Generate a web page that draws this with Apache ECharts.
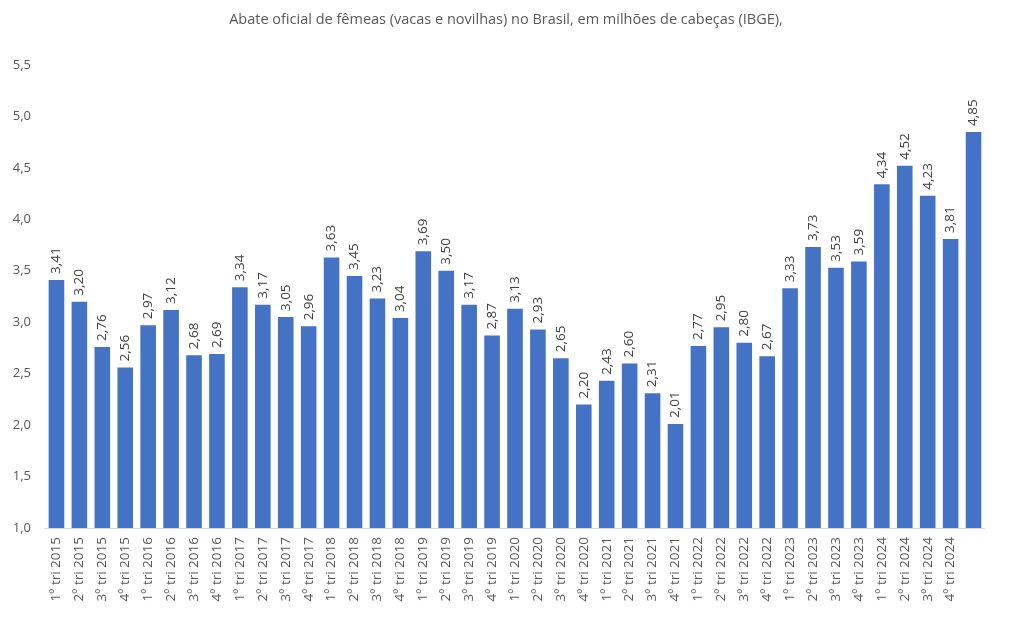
<!DOCTYPE html>
<html>
<head>
<meta charset="utf-8">
<script src="https://cdn.jsdelivr.net/npm/echarts@6/dist/echarts.min.js"></script>
<style>
  html, body { margin: 0; padding: 0; background: #fff; }
  #chart { width: 1012px; height: 629px; }
</style>
</head>
<body>
<div id="chart"></div>
<script>
// quarters 2015-2024, the last bar has no label
var categories = [
  '1º tri 2015', '2º tri 2015', '3º tri 2015', '4º tri 2015',
  '1º tri 2016', '2º tri 2016', '3º tri 2016', '4º tri 2016',
  '1º tri 2017', '2º tri 2017', '3º tri 2017', '4º tri 2017',
  '1º tri 2018', '2º tri 2018', '3º tri 2018', '4º tri 2018',
  '1º tri 2019', '2º tri 2019', '3º tri 2019', '4º tri 2019',
  '1º tri 2020', '2º tri 2020', '3º tri 2020', '4º tri 2020',
  '1º tri 2021', '2º tri 2021', '3º tri 2021', '4º tri 2021',
  '1º tri 2022', '2º tri 2022', '3º tri 2022', '4º tri 2022',
  '1º tri 2023', '2º tri 2023', '3º tri 2023', '4º tri 2023',
  '1º tri 2024', '2º tri 2024', '3º tri 2024', '4º tri 2024',
  ''
];
var abate = [
  3.41, 3.20, 2.76, 2.56,
  2.97, 3.12, 2.68, 2.69,
  3.34, 3.17, 3.05, 2.96,
  3.63, 3.45, 3.23, 3.04,
  3.69, 3.50, 3.17, 2.87,
  3.13, 2.93, 2.65, 2.20,
  2.43, 2.60, 2.31, 2.01,
  2.77, 2.95, 2.80, 2.67,
  3.33, 3.73, 3.53, 3.59,
  4.34, 4.52, 4.23, 3.81,
  4.85
];

var fonte = '"Open Sans", "Noto Sans", sans-serif';
function virgula(v, casas) {
  return v.toFixed(casas).replace('.', ',');
}

var chart = echarts.init(document.getElementById('chart'));
var option = {
  animation: false,
  title: {
    text: 'Abate oficial de fêmeas (vacas e novilhas) no Brasil, em milhões de cabeças (IBGE),',
    left: 'center',
    top: 7,
    textStyle: { fontFamily: fonte, fontSize: 14.5, fontWeight: 'normal', color: '#595959' }
  },
  grid: { left: 45, right: 27, top: 65, bottom: 101 },
  xAxis: {
    type: 'category',
    data: categories,
    axisLine: { lineStyle: { color: '#d9d9d9' } },
    axisTick: { show: false },
    axisLabel: {
      rotate: 90,
      interval: 0,
      margin: 9,
      fontFamily: fonte,
      fontSize: 13.5,
      color: '#595959'
    }
  },
  yAxis: {
    type: 'value',
    min: 1,
    max: 5.5,
    interval: 0.5,
    splitLine: { show: false },
    axisLine: { show: false },
    axisTick: { show: false },
    axisLabel: {
      margin: 14,
      fontFamily: fonte,
      fontSize: 13,
      color: '#595959',
      formatter: function (v) { return virgula(v, 1); }
    }
  },
  series: [{
    type: 'bar',
    data: abate,
    barCategoryGap: '32%',
    itemStyle: { color: '#4472C4' },
    label: {
      show: true,
      position: 'top',
      rotate: 90,
      align: 'left',
      verticalAlign: 'middle',
      distance: 6,
      fontFamily: fonte,
      fontSize: 13.5,
      color: '#404040',
      formatter: function (p) { return virgula(p.value, 2); }
    }
  }]
};
chart.setOption(option);
</script>
</body>
</html>
